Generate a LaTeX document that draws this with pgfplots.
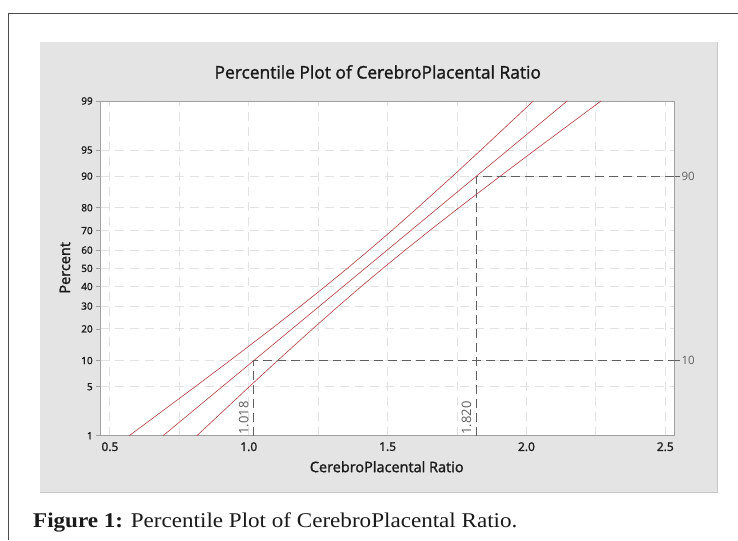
\documentclass[border=0pt]{standalone}
\usepackage{fontspec}
\setmainfont{Liberation Serif}
\newfontfamily\chartfont{Open Sans}
\newfontfamily\chartsemi{Open Sans}[FakeBold=1.6]
\usepackage{pgfplots}
\usepackage{pgfplotstable}
\pgfplotsset{compat=1.18}
\definecolor{panelgray}{HTML}{E4E4E4}
\definecolor{paneledge}{HTML}{C8C8C8}
\definecolor{gridgray}{HTML}{E2E2E2}
\definecolor{axgray}{HTML}{A0A0A0}
\definecolor{refgray}{HTML}{606060}
\definecolor{pctred}{HTML}{B23E44}
\definecolor{txt}{HTML}{1A1A1A}

% z = normal quantile of the percent; lo / mid / hi = CerebroPlacental Ratio
\pgfplotstableread{
z lo mid hi
-2.3263 0.5692 0.6911 0.8130
-1.6449 0.8069 0.9043 1.0017
-1.2816 0.9322 1.0180 1.1038
-0.8416 1.0815 1.1557 1.2299
-0.5244 1.1867 1.2549 1.3231
-0.2533 1.2747 1.3397 1.4047
0.0000 1.3550 1.4190 1.4830
0.2533 1.4333 1.4983 1.5633
0.5244 1.5149 1.5831 1.6513
0.8416 1.6081 1.6823 1.7565
1.2816 1.7342 1.8200 1.9058
1.6449 1.8363 1.9337 2.0311
2.3263 2.0250 2.1469 2.2688
}\bands

\begin{document}
\begin{tikzpicture}
\fill[white] (0pt,0pt) rectangle (738pt,-540pt);
\draw[black!70, line width=0.9pt] (8pt,-540pt) -- (8pt,-13pt) -- (738pt,-13pt);
\fill[panelgray] (40pt,-42pt) rectangle (718pt,-493pt);
\draw[paneledge, line width=1.2pt] (718pt,-42pt) -- (718pt,-493pt) -- (40pt,-493pt);

\node[font=\chartsemi\fontsize{17.4}{20}\selectfont, text=txt] at (378pt,-72pt) {Percentile Plot of CerebroPlacental Ratio};
\node[font=\chartsemi\fontsize{14.5}{16}\selectfont, text=txt] at (387pt,-467pt) {CerebroPlacental Ratio};
\node[font=\chartsemi\fontsize{14.5}{16}\selectfont, text=txt, rotate=90] at (65pt,-268pt) {Percent};

\begin{axis}[
  at={(100.3pt,-436pt)}, anchor=south west,
  scale only axis, width=574.7pt, height=335pt,
  xmin=0.4651, xmax=2.5335, ymin=-2.3263, ymax=2.3263,
  clip=false,
  axis background/.style={fill=white},
  axis line style={axgray, line width=0.8pt},
  xtick={0.5,1.0,1.5,2.0,2.5},
  xticklabels={0.5,1.0,1.5,2.0,2.5},
  minor xtick={0.75,1.25,1.75,2.25},
  ytick={-2.3263,-1.6449,-1.2816,-0.8416,-0.5244,-0.2533,0,0.2533,0.5244,0.8416,1.2816,1.6449,2.3263},
  yticklabels={1,5,10,20,30,40,50,60,70,80,90,95,99},
  xtick pos=lower, ytick pos=left,
  tick align=outside,
  major tick length=4pt, minor tick length=0pt,
  tick style={axgray, line width=0.8pt},
  xtick style={draw=none},
  grid=both,
  major grid style={gridgray, line width=0.9pt, dash pattern=on 9pt off 6pt},
  minor grid style={gridgray, line width=0.9pt, dash pattern=on 9pt off 6pt},
  x tick label style={font=\chartsemi\fontsize{12}{14}\selectfont, text=txt, yshift=1pt},
  y tick label style={font=\chartsemi\fontsize{10}{12}\selectfont, text=txt},
]
\addplot[pctred, line width=0.6pt] table[x=lo, y=z] {\bands};
\addplot[pctred, line width=0.6pt] table[x=mid, y=z] {\bands};
\addplot[pctred, line width=0.6pt] table[x=hi, y=z] {\bands};

\addplot[refgray, line width=0.9pt, dash pattern=on 9pt off 5pt] coordinates {(1.018,-2.3263) (1.018,-1.2816) (2.5335,-1.2816)};
\addplot[refgray, line width=0.9pt, dash pattern=on 9pt off 5pt] coordinates {(1.820,-2.3263) (1.820,1.2816) (2.5335,1.2816)};

\draw[refgray, line width=0.9pt] (axis cs:2.5335,-1.2816) -- ++(5pt,0pt) node[right, inner sep=1.5pt, font=\chartfont\fontsize{11.5}{13}\selectfont, text=refgray] {10};
\draw[refgray, line width=0.9pt] (axis cs:2.5335,1.2816) -- ++(5pt,0pt) node[right, inner sep=1.5pt, font=\chartfont\fontsize{11.5}{13}\selectfont, text=refgray] {90};
\node[rotate=90, anchor=south west, inner sep=1pt, font=\chartfont\fontsize{13}{15}\selectfont, text=refgray] at (axis cs:1.018,-2.3263) [yshift=4pt] {1.018};
\node[rotate=90, anchor=south west, inner sep=1pt, font=\chartfont\fontsize{13}{15}\selectfont, text=refgray] at (axis cs:1.820,-2.3263) [yshift=4pt] {1.820};
\end{axis}

\node[anchor=base west, inner sep=0pt, text=txt] at (33pt,-528pt) {\scalebox{1.1}[1]{\fontsize{21}{23}\selectfont\textbf{Figure 1:} Percentile Plot of CerebroPlacental Ratio.}};
\end{tikzpicture}
\end{document}
